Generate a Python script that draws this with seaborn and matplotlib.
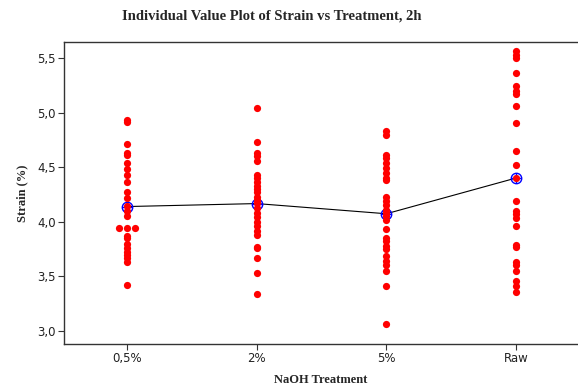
import numpy as np
import pandas as pd
import matplotlib
matplotlib.use("Agg")
import matplotlib.pyplot as plt
from matplotlib.ticker import FuncFormatter, FixedLocator
import seaborn as sns

# Strain (%) measured after 2 h for each NaOH treatment
treatments = ["0,5%", "2%", "5%", "Raw"]

strain_05 = [4.93, 4.91, 4.71, 4.63, 4.61, 4.54, 4.48, 4.43, 4.36, 4.27,
             4.22, 4.14, 4.10, 4.05, 3.94, 3.94, 3.94, 3.87, 3.85, 3.80,
             3.76, 3.72, 3.70, 3.67, 3.63, 3.42]
strain_2 = [5.04, 4.73, 4.63, 4.60, 4.56, 4.43, 4.40, 4.36, 4.33, 4.30,
            4.27, 4.23, 4.20, 4.17, 4.13, 4.08, 4.04, 4.00, 3.96, 3.92,
            3.88, 3.77, 3.76, 3.67, 3.53, 3.34]
strain_5 = [4.83, 4.79, 4.61, 4.58, 4.54, 4.49, 4.45, 4.40, 4.38, 4.23,
            4.19, 4.15, 4.11, 4.08, 4.05, 4.02, 3.93, 3.85, 3.82, 3.78,
            3.75, 3.69, 3.64, 3.60, 3.55, 3.41, 3.06]
strain_raw = [5.56, 5.53, 5.50, 5.36, 5.24, 5.20, 5.17, 5.06, 4.90, 4.65,
              4.52, 4.40, 4.19, 4.10, 4.07, 4.03, 3.96, 3.79, 3.77, 3.63,
              3.60, 3.55, 3.46, 3.41, 3.36]

y_ticks = [3.0, 3.5, 4.0, 4.5, 5.0, 5.5]

groups = [strain_05, strain_2, strain_5, strain_raw]
df = pd.DataFrame({
    "Treatment": np.repeat(treatments, [len(g) for g in groups]),
    "Strain": np.concatenate(groups),
})
# identical values within a group are laid side by side
tied = df.duplicated(["Treatment", "Strain"], keep=False)

sns.set_style("ticks")
plt.rcParams["font.family"] = ["DejaVu Sans"]

fig = plt.figure(figsize=(5.78, 3.85), dpi=100)
ax = fig.add_axes([0.1107, 0.1065, 0.8893, 0.7845])

point_kw = dict(order=treatments, color="#ff0000", size=5.2, linewidth=0)
sns.stripplot(data=df[~tied], x="Treatment", y="Strain", jitter=False,
              ax=ax, **point_kw)
sns.swarmplot(data=df[tied], x="Treatment", y="Strain", ax=ax, **point_kw)

# connect the group means
sns.pointplot(data=df, x="Treatment", y="Strain", order=treatments,
              estimator="mean", errorbar=None, color="black",
              markersize=0, linewidth=0.8, ax=ax)
# mean symbol: open circle with a cross
sns.pointplot(data=df, x="Treatment", y="Strain", order=treatments,
              estimator="mean", errorbar=None, color="#0000ff",
              linestyles="none", markers="o", markersize=7.5,
              markerfacecolor="none", markeredgecolor="#0000ff",
              markeredgewidth=1.0, ax=ax)
sns.pointplot(data=df, x="Treatment", y="Strain", order=treatments,
              estimator="mean", errorbar=None, color="#0000ff",
              linestyles="none", markers="+", markersize=7.5,
              markeredgewidth=1.0, ax=ax)

ax.set_xlim(-0.486, 3.478)
ax.set_ylim(2.881, 5.646)
ax.yaxis.set_major_locator(FixedLocator(y_ticks))
ax.yaxis.set_major_formatter(FuncFormatter(lambda v, p: f"{v:.1f}".replace(".", ",")))

for side in ["left", "bottom", "top"]:
    ax.spines[side].set_visible(True)
    ax.spines[side].set_color("#333333")
    ax.spines[side].set_linewidth(1.0)
ax.spines["right"].set_visible(False)
ax.tick_params(axis="both", direction="out", length=4, width=0.8,
               color="#333333", labelsize=8.5, labelcolor="#222222", pad=2)

label_font = dict(family=["Liberation Serif"], weight="bold", size=9)
ax.set_xlabel("NaOH Treatment", labelpad=6, **label_font)
ax.set_ylabel("Strain (%)", labelpad=6, **label_font)
fig.suptitle("Individual Value Plot of Strain vs Treatment, 2h",
             x=0.47, y=0.975, family=["Liberation Serif"], weight="bold",
             size=10.5)

fig.savefig("out.png", dpi=100)
